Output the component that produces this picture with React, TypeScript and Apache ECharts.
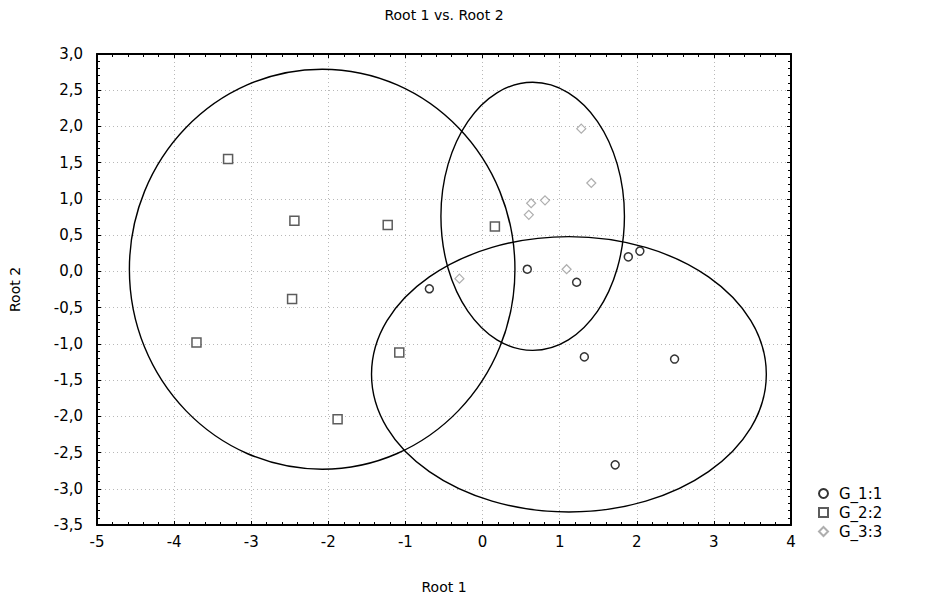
import React, { useEffect, useRef } from "react";
import * as echarts from "echarts";

// Group scores on the first two discriminant roots
const g1Root1 = [0.58, -0.69, 1.22, 1.89, 2.04, 1.32, 2.49, 1.72];
const g1Root2 = [0.03, -0.24, -0.15, 0.2, 0.28, -1.18, -1.21, -2.67];

const g2Root1 = [-3.3, -2.44, -1.23, 0.16, -2.47, -3.71, -1.08, -1.88];
const g2Root2 = [1.55, 0.7, 0.64, 0.62, -0.38, -0.98, -1.12, -2.04];

const g3Root1 = [1.28, 1.41, 0.63, 0.81, 0.6, 1.09, -0.3];
const g3Root2 = [1.97, 1.22, 0.94, 0.98, 0.78, 0.03, -0.1];

const groupNames = ["G_1:1", "G_2:2", "G_3:3"];

// Confidence ellipses: centre (root 1, root 2) and semi-axes
const ellipseCx = [1.12, -2.08, 0.65];
const ellipseCy = [-1.42, 0.03, 0.76];
const ellipseRx = [2.56, 2.5, 1.19];
const ellipseRy = [1.9, 2.76, 1.85];

const xTicks = [-5, -4, -3, -2, -1, 0, 1, 2, 3, 4];
const yTicks = [-3.5, -3, -2.5, -2, -1.5, -1, -0.5, 0, 0.5, 1, 1.5, 2, 2.5, 3];

const FONT = "'DejaVu Sans', Verdana, sans-serif";

const zip = (a: number[], b: number[]) => a.map((v, i) => [v, b[i]]);

export default function App() {
  const ref = useRef<HTMLDivElement>(null);

  useEffect(() => {
    if (!ref.current) return;
    const chart = echarts.init(ref.current, null, { renderer: "svg" });

    const frameAxis = {
      axisLine: { show: true, onZero: false, lineStyle: { color: "#000", width: 2 } },
      axisTick: { show: true, inside: true, length: 4, lineStyle: { color: "#000", width: 1 } },
      minorTick: { show: true, splitNumber: 5, length: 3, lineStyle: { color: "#000", width: 1 } },
    };
    const gridDots = { show: true, lineStyle: { color: "#b8b8b8", type: [1, 3], width: 1 } };

    const xMin = xTicks[0];
    const xMax = xTicks[xTicks.length - 1];
    const yMin = yTicks[0];
    const yMax = yTicks[yTicks.length - 1];

    const ellipses = ellipseCx.map((cx, i) => [cx, ellipseCy[i], ellipseRx[i], ellipseRy[i]]);

    chart.setOption({
      animation: false,
      backgroundColor: "#fff",
      grid: { left: 96, right: 138, top: 54, bottom: 76 },
      graphic: [
        {
          type: "text",
          x: 444,
          y: 8,
          style: {
            text: "Root 1 vs. Root 2",
            fill: "#000",
            font: `14px ${FONT}`,
            align: "center",
          },
        },
      ],
      xAxis: [
        {
          type: "value",
          position: "bottom",
          min: xMin,
          max: xMax,
          interval: 1,
          ...frameAxis,
          splitLine: gridDots,
          axisLabel: { color: "#000", fontSize: 15, fontFamily: FONT, margin: 9 },
          name: "Root 1",
          nameLocation: "middle",
          nameGap: 55,
          nameTextStyle: { color: "#000", fontSize: 14, fontFamily: FONT },
        },
        {
          type: "value",
          position: "top",
          min: xMin,
          max: xMax,
          interval: 1,
          ...frameAxis,
          splitLine: { show: false },
          axisLabel: { show: false },
        },
      ],
      yAxis: [
        {
          type: "value",
          position: "left",
          min: yMin,
          max: yMax,
          interval: 0.5,
          ...frameAxis,
          splitLine: gridDots,
          axisLabel: {
            color: "#000",
            fontSize: 15,
            fontFamily: FONT,
            margin: 14,
            formatter: (v: number) => v.toFixed(1).replace(".", ","),
          },
          name: "Root 2",
          nameLocation: "middle",
          nameGap: 75,
          nameRotate: 90,
          nameTextStyle: { color: "#000", fontSize: 14, fontFamily: FONT },
        },
        {
          type: "value",
          position: "right",
          min: yMin,
          max: yMax,
          interval: 0.5,
          ...frameAxis,
          splitLine: { show: false },
          axisLabel: { show: false },
        },
      ],
      legend: {
        orient: "vertical",
        left: 813,
        top: 481,
        itemWidth: 9,
        itemHeight: 9,
        itemGap: 4,
        data: groupNames,
        textStyle: {
          color: "#000",
          fontSize: 15,
          fontFamily: FONT,
          padding: [0, 0, 0, 6],
        },
      },
      series: [
        {
          type: "custom",
          name: "ellipses",
          data: ellipses,
          encode: { x: 0, y: 1 },
          silent: true,
          z: 1,
          renderItem: (_params: any, api: any) => {
            const c = api.coord([api.value(0), api.value(1)]);
            const s = api.size([api.value(2), api.value(3)]);
            return {
              type: "ellipse",
              shape: { cx: c[0], cy: c[1], rx: s[0], ry: s[1] },
              style: { fill: "none", stroke: "#000", lineWidth: 1.4 },
            };
          },
        },
        {
          type: "scatter",
          name: groupNames[0],
          data: zip(g1Root1, g1Root2),
          symbol: "circle",
          symbolSize: 8,
          z: 3,
          itemStyle: { color: "#fff", borderColor: "#000", borderWidth: 1.5 },
        },
        {
          type: "scatter",
          name: groupNames[1],
          data: zip(g2Root1, g2Root2),
          symbol: "rect",
          symbolSize: 9,
          z: 3,
          itemStyle: { color: "#fff", borderColor: "#333", borderWidth: 1.5 },
        },
        {
          type: "scatter",
          name: groupNames[2],
          data: zip(g3Root1, g3Root2),
          symbol: "diamond",
          symbolSize: 9,
          z: 3,
          itemStyle: { color: "#fff", borderColor: "#9a9a9a", borderWidth: 1.2 },
        },
      ],
    });

    return () => chart.dispose();
  }, []);

  return (
    <div
      ref={ref}
      style={{ position: "absolute", left: 0, top: 0, width: 929, height: 601 }}
    />
  );
}
